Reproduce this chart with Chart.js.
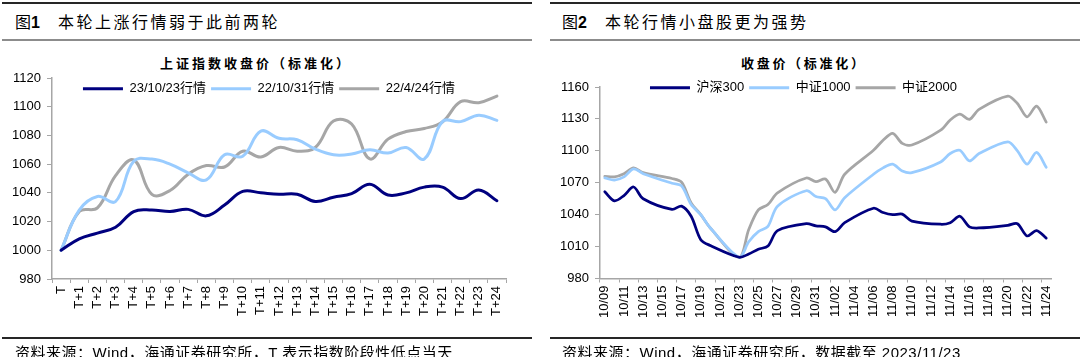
<!DOCTYPE html>
<html><head><meta charset="utf-8">
<script src="https://cdn.jsdelivr.net/npm/chart.js@4.4.1/dist/chart.umd.min.js"></script>
<style>
html,body{margin:0;padding:0;background:#fff;}
body{width:1080px;height:357px;overflow:hidden;position:relative;font-family:"Liberation Sans","Noto Sans CJK SC",sans-serif;color:#000;}
.rule{position:absolute;height:0;}
.head{position:absolute;top:13px;font-size:16px;line-height:20px;white-space:nowrap;}
.head b{font-family:"Liberation Sans",sans-serif;font-weight:bold;}
.head span{letter-spacing:2.5px;}
.ctitle{position:absolute;top:56px;font-size:13px;line-height:16px;letter-spacing:3px;white-space:nowrap;font-weight:bold;}
.foot{position:absolute;top:345px;font-size:15px;line-height:15px;letter-spacing:0.5px;white-space:nowrap;}
.cv{position:absolute;top:50px;}
</style>
</head><body>
<div class="rule" style="left:2px;width:530px;top:2px;border-top:2px solid #262626"></div>
<div class="head" style="left:15px">图<b>1</b><span style="margin-left:18px">本轮上涨行情弱于此前两轮</span></div>
<div class="rule" style="left:2px;width:530px;top:39px;border-top:2px solid #8c8c8c"></div>
<div class="ctitle" style="left:160px">上证指数收盘价（标准化）</div>
<div class="cv" style="left:0;width:540px;height:290px"><canvas id="c1" width="540" height="290"></canvas></div>
<div class="rule" style="left:2px;width:530px;top:337px;border-top:2px solid #262626"></div>
<div class="foot" style="left:15px">资料来源：Wind，海通证券研究所，T 表示指数阶段性低点当天</div>

<div class="rule" style="left:550px;width:530px;top:2px;border-top:2px solid #262626"></div>
<div class="head" style="left:562px">图<b>2</b><span style="margin-left:18px">本轮行情小盘股更为强势</span></div>
<div class="rule" style="left:550px;width:530px;top:39px;border-top:2px solid #8c8c8c"></div>
<div class="ctitle" style="left:741px;letter-spacing:2.7px">收盘价（标准化）</div>
<div class="cv" style="left:540px;width:540px;height:290px"><canvas id="c2" width="540" height="290"></canvas></div>
<div class="rule" style="left:550px;width:530px;top:337px;border-top:2px solid #262626"></div>
<div class="foot" style="left:562px">资料来源：Wind，海通证券研究所，数据截至 2023/11/23</div>

<script>
// ---------- Figure 1 data ----------
const leftCategories = ['T','T+1','T+2','T+3','T+4','T+5','T+6','T+7','T+8','T+9','T+10','T+11','T+12','T+13','T+14','T+15','T+16','T+17','T+18','T+19','T+20','T+21','T+22','T+23','T+24'];
const leftNames = ['23/10/23行情','22/10/31行情','22/4/24行情'];
const rally231023 = [1000,1008,1012,1016,1027,1028,1027,1028.5,1024,1031.5,1041,1040,1039,1039,1034,1037,1039.5,1046,1038.5,1040,1044,1044,1036,1042,1034.5];
const rally221031 = [1000,1028,1037.5,1034,1062,1063.5,1060,1054,1049,1066.5,1065.5,1083,1078,1077,1070.5,1066.5,1067,1070,1067.7,1071.6,1063.6,1089.6,1089.6,1094,1090.5];
const rally220424 = [1000,1027,1029.5,1052,1063,1039,1041.6,1053,1059,1058,1069,1065,1071.6,1069,1071.6,1090,1088,1063.6,1077.4,1082.7,1084.8,1089.4,1103.5,1102.8,1107.4];
const leftYTicks = {min:980, max:1120, step:20};

// ---------- Figure 2 data ----------
const rightDates = ['10/09','10/10','10/11','10/12','10/13','10/14','10/15','10/16','10/17','10/18','10/19','10/20','10/21','10/22','10/23','10/24','10/25','10/26','10/27','10/28','10/29','10/30','10/31','11/01','11/02','11/03','11/04','11/05','11/06','11/07','11/08','11/09','11/10','11/11','11/12','11/13','11/14','11/15','11/16','11/17','11/18','11/19','11/20','11/21','11/22','11/23','11/24'];
const rightNames = ['沪深300','中证1000','中证2000'];
const hs300 = [1061.5,1053,1058,1066,1055,null,null,1045,1048,1038.5,1016.5,1011,null,null,1000,1003,1007.5,1010.5,1025,null,null,1031.5,1029.5,1028.5,1024,1032.5,null,null,1046,1042,1040,1040.5,1034,null,null,1031,1032.5,1038.5,1028.5,1027.5,null,null,1030,1031.5,1020,1025,1018];
const csi1000 = [1074.5,1072.5,1075.5,1083,1078.5,null,null,1069.5,1067,1049.5,1040,1027.5,null,null,1000,1014.5,1024,1029,1048,null,null,1062.5,1057,1055,1044.5,1056,null,null,1078,1084,1087.5,1081,1079.5,null,null,1089.5,1097.5,1100.5,1090.5,1097.5,null,null,1108.5,1100,1087.5,1098.5,1084.5];
const csi2000 = [1076,1075.5,1078.5,1084,1079.5,null,null,1074,1070.5,1051,1040,1027.5,null,null,1000,1026,1044.5,1049.5,1060.5,null,null,1074.5,1071,1073.5,1061,1078,null,null,1100.5,1110,1116.5,1107,1105.5,null,null,1119.5,1129,1134.5,1129.5,1139,null,null,1151.5,1144.5,1132,1142,1127];
const rightYTicks = {min:980, max:1160, step:30};

const NAVY = '#00007f', LIGHT = '#99ccff', GRAY = '#a6a6a6', AXIS = '#a6a6a6';
const FONT = '"Liberation Sans","Noto Sans CJK SC",sans-serif';

function legendLabels(chart){
  const items = Chart.defaults.plugins.legend.labels.generateLabels(chart);
  items.forEach(it => { it.lineWidth = 0; });
  return items;
}
// places the library's own legend inside the plot area (as in the original)
const legendInPlot = {
  id:'legendInPlot',
  afterLayout(chart, args, opts){
    const lg = chart.legend;
    if (!lg) return;
    const h = lg.bottom - lg.top;
    lg.top = opts.top; lg.bottom = opts.top + h;
    lg.left += opts.dx; lg.right += opts.dx;
  }
};
function ds(label, data, color, w, tension){
  return {label, data, borderColor:color, backgroundColor:color, borderWidth:w, pointRadius:0, pointHoverRadius:0, tension, fill:false, spanGaps:true, borderCapStyle:'round', borderJoinStyle:'round'};
}
function makeChart(id, cats, sets, yt, cfg){
  return new Chart(document.getElementById(id), {
    type:'line',
    data:{labels:cats, datasets:sets},
    plugins:[legendInPlot],
    options:{
      responsive:false, animation:false, events:[],
      layout:{padding:{top:cfg.top, right:cfg.right, bottom:0, left:0}},
      plugins:{
        tooltip:{enabled:false},
        title:{display:false},
        legendInPlot:{top:cfg.legTop, dx:cfg.legDx},
        legend:{position:'top', align:'center',
          labels:{boxWidth:40, boxHeight:3, padding:5, color:'#000', font:{family:FONT, size:13}, generateLabels:legendLabels}}
      },
      scales:{
        x:{type:'category', offset:true,
          grid:{offset:true, drawOnChartArea:false, drawTicks:true, tickLength:4, lineWidth:1, color:AXIS, tickColor:cfg.tickColor},
          border:{display:true, color:AXIS, width:1.5},
          ticks:{autoSkip:false, maxRotation:90, minRotation:90, padding:3, color:'#000', font:{family:FONT, size:13}, callback:cfg.xcb},
          afterFit:(s)=>{ s.height = cfg.xh; }
        },
        y:{min:yt.min, max:yt.max,
          grid:{drawOnChartArea:false, drawTicks:true, tickLength:5, color:AXIS},
          border:{display:true, color:AXIS, width:1.5},
          ticks:{stepSize:yt.step, padding:6, color:'#000', font:{family:FONT, size:13}, callback:(v)=>String(v)},
          afterFit:(s)=>{ s.width = cfg.yw; }
        }
      }
    }
  });
}

makeChart('c1', leftCategories, [
  ds(leftNames[0], rally231023, NAVY, 3, 0.4),
  ds(leftNames[1], rally221031, LIGHT, 3, 0.4),
  ds(leftNames[2], rally220424, GRAY, 3, 0.4)
], leftYTicks, {top:0, right:34, xh:61, yw:52, legTop:27.3, legDx:16, tickColor:AXIS,
  xcb:function(v,i){ return leftCategories[i]; }});

makeChart('c2', rightDates, [
  ds(rightNames[0], hs300, NAVY, 2.75, 0.3),
  ds(rightNames[1], csi1000, LIGHT, 2.75, 0.3),
  ds(rightNames[2], csi2000, GRAY, 2.75, 0.3)
], rightYTicks, {top:9, right:29, xh:61.5, yw:60, legTop:26.3, legDx:8,
  tickColor:(ctx)=> (ctx.index !== undefined && ctx.index % 2 === 0) ? AXIS : 'rgba(0,0,0,0)',
  xcb:function(v,i){ return i % 2 === 0 ? rightDates[i] : ''; }});
</script>
</body></html>
